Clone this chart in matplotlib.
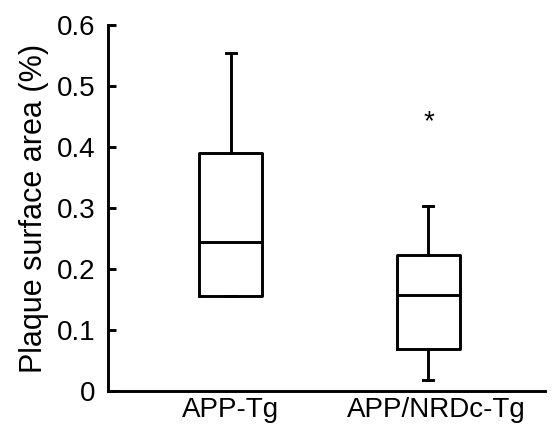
import matplotlib.pyplot as plt
from matplotlib.transforms import ScaledTranslation

plt.rcParams['font.family'] = ['Liberation Sans', 'DejaVu Sans']

# box statistics
groups = ['APP-Tg', 'APP/NRDc-Tg']
whis_lo = [0.156, 0.018]
q1 = [0.156, 0.069]
medians = [0.244, 0.157]
q3 = [0.390, 0.223]
whis_hi = [0.554, 0.303]
star_y = 0.44

stats = []
for i, g in enumerate(groups):
    stats.append({'label': g, 'whislo': whis_lo[i], 'q1': q1[i], 'med': medians[i],
                  'q3': q3[i], 'whishi': whis_hi[i], 'fliers': []})

fig = plt.figure(figsize=(5.55, 4.37), dpi=100)
ax = fig.add_axes([0.195, 0.105, 0.787, 0.838])

lw = 2.1
ax.bxp(stats, positions=[1, 2], widths=0.32, showfliers=False,
       boxprops=dict(color='black', linewidth=lw),
       medianprops=dict(color='black', linewidth=lw),
       whiskerprops=dict(color='black', linewidth=lw),
       capprops=dict(color='black', linewidth=lw),
       capwidths=0.05)

ax.text(2, star_y, '*', ha='center', va='center', fontsize=20)

ax.set_xlim(0.38, 2.59)
ax.set_ylim(0, 0.6)
ax.set_yticks([0, 0.1, 0.2, 0.3, 0.4, 0.5, 0.6])
ax.set_yticklabels(['0', '0.1', '0.2', '0.3', '0.4', '0.5', '0.6'])
ax.set_ylabel('Plaque surface area (%)', fontsize=22, labelpad=6)
ax.tick_params(axis='y', direction='in', length=6, width=lw, labelsize=20, pad=9)
ax.tick_params(axis='x', length=0, labelsize=20, pad=4)

# second group label sits a bit right of its box in the original
lab = ax.get_xticklabels()[1]
lab.set_transform(lab.get_transform() + ScaledTranslation(0.08, 0, fig.dpi_scale_trans))

for s in ['top', 'right']:
    ax.spines[s].set_visible(False)
for s in ['left', 'bottom']:
    ax.spines[s].set_linewidth(lw)

plt.savefig('out.png', dpi=100)
